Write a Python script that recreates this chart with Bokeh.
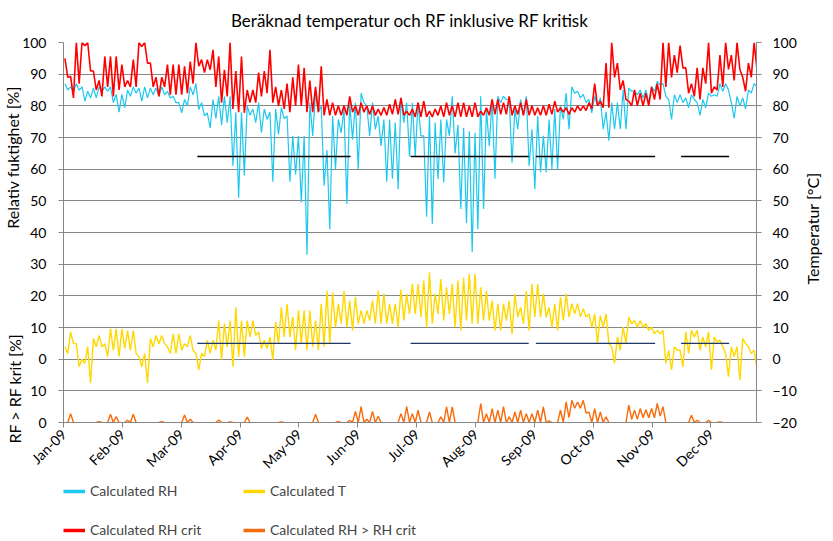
import math
from bokeh.plotting import figure
from bokeh.layouts import column
from bokeh.models import (Range1d, LinearAxis, FixedTicker, Label, Legend, LegendItem)
from bokeh.embed import file_html
from bokeh.resources import INLINE

# ---------------- data ----------------
BUCKET_DAYS = 3  # each entry = high / low of the hourly series over 3 days

month_labels = ["Jan-09", "Feb-09", "Mar-09", "Apr-09", "May-09", "Jun-09",
                "Jul-09", "Aug-09", "Sep-09", "Oct-09", "Nov-09", "Dec-09"]
month_tick_days = [0, 31, 62, 93, 124, 155, 186, 217, 248, 279, 310, 341]

rh_hi = [87, 86, 87, 86, 84.6, 85.6, 86, 86, 86, 83.6,
         83.6, 85, 86, 85.6, 86, 85.6, 85.6, 86, 84.6, 83,
         81, 82, 86, 87, 81, 77.8, 82, 83, 83, 83,
         78, 78, 80, 79, 81, 79, 78, 79, 79.4, 76.8,
         70.5, 70.5, 70.5, 81, 84, 80, 66, 76.8, 75.7, 79,
         81, 81, 84, 80, 81, 76.8, 75.7, 75.7, 74.7, 82.5,
         81, 81, 81, 70.5, 76.8, 74.7, 75.7, 75.7, 83, 74,
         73, 72, 71.5, 83, 79, 82, 83, 83, 82, 79,
         82, 83, 72.6, 76.8, 70.5, 75.7, 79, 80, 84, 86,
         84.6, 83.6, 82, 83, 82.5, 78, 81, 81, 85, 85.6,
         84.6, 85, 85, 86, 87.7, 87, 82, 83.5, 83.5, 82.5,
         83.5, 81, 82, 84, 83.5, 87, 87, 81, 83, 82.5,
         85, 87]
rh_lo = [85, 84.5, 85, 81.5, 82.5, 82.5, 84.6, 84.6, 81, 78,
         79.4, 83, 84, 81.5, 82.5, 83.5, 83, 83.5, 82.5, 81,
         77.8, 80, 83.5, 78.8, 76.8, 73, 76, 74, 74.7, 61,
         51, 58, 77, 74.7, 71.5, 75.7, 56, 71, 76, 56,
         58.3, 49.5, 33, 70.5, 78, 54.8, 41, 60, 71.5, 49,
         69.4, 60, 81, 70.5, 72.6, 67.3, 56, 57, 53.7, 74.7,
         64, 64, 70.5, 45, 42.7, 56.8, 55.8, 70.5, 65, 47.4,
         43, 33.8, 41, 47.4, 67.3, 57, 81, 82, 62, 72.6,
         77, 61, 53.7, 59, 59, 60, 60, 75.7, 72.6, 84,
         82.5, 81, 77.8, 80, 72.6, 69, 72.6, 72.6, 72.6, 84.6,
         83.5, 82.5, 81, 84.6, 86.7, 83, 75.7, 81, 81, 79.4,
         82, 77, 79.4, 83, 83, 84.6, 85, 76, 80, 79,
         84, 86]

rhcrit_hi = [95, 89.3, 100, 100, 100, 91, 88, 95.6, 95.6, 95.6,
             93, 88, 94.6, 100, 100, 93.5, 89, 89, 93, 93,
             93, 92.5, 94, 100, 94.6, 94.6, 97.7, 95.6, 91.4, 100,
             91, 95.6, 85, 85, 90.5, 91, 97.7, 86, 85, 87,
             89, 93, 92, 88, 86, 92.5, 82, 81, 80, 80,
             83, 80, 81, 80, 80, 79, 79.5, 80.5, 82, 82.5,
             78.3, 79, 81, 81.5, 78.3, 79, 80, 81, 80, 81,
             81, 80, 81, 78.3, 79.4, 82, 82, 81, 83, 80,
             81, 82, 80, 79.4, 80, 80.5, 81.5, 79.4, 79.4, 79.4,
             80, 80, 81, 87, 81.5, 93.5, 100, 93.5, 88, 81.5,
             85, 84, 84, 86, 87, 100, 100, 96, 99, 92,
             87, 92, 92, 100, 86, 96, 100, 96, 100, 89,
             93.5, 100]
rhcrit_lo = [89, 82.5, 87, 99, 91, 85, 83, 86, 83, 85,
             86, 86, 86, 98.7, 93.5, 86, 83, 86, 83.5, 83.5,
             83.5, 84, 87, 92.5, 90.5, 91.4, 86, 81, 83, 79,
             78, 77.8, 81, 81, 83, 84, 81, 80, 79, 78,
             80, 80, 78, 78, 78, 77, 77, 77, 77, 77,
             78, 77, 78, 77.3, 77, 77, 77, 77.3, 77.3, 77,
             77, 76.5, 76.5, 76.5, 76.5, 77, 76.5, 77, 76.5, 76.5,
             76.5, 76.5, 76.5, 77, 77, 77.3, 77.3, 77.3, 77, 77.3,
             77, 77, 77, 77, 77, 77.3, 78, 78, 77.3, 78,
             78.5, 78.5, 79, 80, 79.4, 79.4, 89, 85, 82, 80,
             80, 80, 80, 82, 82, 86, 89, 90.5, 92, 84,
             83, 82, 87, 84, 85, 86, 91.5, 88, 91.5, 84.6,
             89, 91.5]

t_hi = [3.9, 8.6, 4.9, 0, 3.9, 6.5, 7.5, 4.9, 9.6, 9.6,
        9.6, 9, 9, 0.8, 1.8, 6.5, 7.5, 7.5, 3.9, 8,
        8, 4.9, 7.5, 1.8, 1.8, 6, 6, 12.2, 11.2, 12.2,
        16.4, 12.2, 12.2, 12.2, 8.6, 6, 7, 11.7, 16.4, 17.5,
        13.3, 15.4, 15.4, 15.4, 12.2, 17.5, 21.6, 21, 17.5, 21.6,
        18.5, 19.6, 15.4, 15.4, 18.5, 21.6, 20.6, 17.5, 17.5, 22,
        20.6, 23.7, 23.7, 24.8, 27.4, 20.6, 25.3, 22.7, 23.7, 24.8,
        25.8, 26.9, 26.9, 22.7, 21.6, 18.5, 17.5, 17.5, 18.5, 20.6,
        16.4, 21.6, 23.7, 23.7, 20.6, 16.4, 17.5, 19.6, 20.6, 17.5,
        17.5, 15.9, 14.3, 14.3, 13.8, 14.3, 3.9, 7, 10.1, 13.3,
        12.2, 12.2, 11.2, 10.1, 9.1, 9.1, 2.8, 3.9, 2.8, 8.6,
        9.1, 9.1, 7, 8.6, 7, 6, 1.8, 3.9, 3.9, 6.5,
        3.9, 2.8]
t_lo = [1.8, 4.9, -2.4, -1.3, -7.6, 3.9, 3.9, 0.8, 2.8, 0.8,
        3.4, 2.8, 1.8, -2.4, -7.6, 3.9, 4.9, 4.9, 1.8, 1.8,
        2.8, 3.9, 2.8, -3.4, 0.8, 1.8, 2.8, -0.2, 3.9, -2.4,
        0.8, 0.8, 7, 7.5, 3.4, 3.4, -0.2, 4.9, 7, 7,
        2.8, 4.9, 2.8, 3.9, 2.8, 3.9, 4.9, 10.1, 11.2, 10.1,
        9.1, 11.2, 11.2, 12.2, 11.2, 11.2, 11.2, 11.2, 10.1, 12.2,
        14.3, 14.3, 13.3, 10.1, 11.2, 14.3, 12.2, 14.3, 10.1, 9.1,
        12.2, 11.2, 11.2, 12.2, 12.2, 9.1, 9.1, 12.2, 8, 13.3,
        11.2, 9.1, 13.3, 13.3, 13.3, 10.1, 9.1, 12.2, 13.3, 14.3,
        13.3, 13.3, 10.1, 4.9, 10.1, 4.9, -1.3, 2.8, 4.9, 11.2,
        10.1, 10.1, 9.1, 8, 8, -1.3, -3.4, 2.8, -2.4, 1.8,
        7, 2.8, 3.9, -3.4, 5.4, 3.9, -5.5, 0.8, -6.6, 4.9,
        1.8, -2.9]

over_hi = [0, 2.8, 0, 0, 0, 0, 0.3, 0, 2.6, 1.9,
           0, 0.7, 2.6, 0, 0, 0, 0, 0.3, 0, 0,
           0, 2.4, 1, 0, 0, 0, 0, 0.8, 0, 0.2,
           0, 0, 1.7, 0, 0, 0, 0, 0, 0.2, 0,
           0, 0, 0, 0, 2.6, 0, 0, 0, 0.3, 0,
           0.7, 3.5, 5, 1, 3.5, 2, 0, 0, 0, 2.8,
           5, 2.8, 3.9, 0, 3.3, 0, 1.8, 4.9, 4.9, 0,
           0, 0, 0, 6, 2.8, 4.4, 3.9, 5, 1.8, 3.3,
           3.9, 2.8, 2.8, 3.9, 4.9, 0.5, 0, 3.9, 6.5, 7,
           6.5, 7, 3.3, 4.4, 3.3, 1.8, 0, 0, 0, 5.5,
           3.9, 4.4, 4, 4.4, 6, 5, 0, 0, 0, 0,
           2.3, 0.7, 0, 0.7, 0, 0.2, 0, 0, 0, 0,
           0, 0]
over_lo = [0] * 88 + [1.5, 4.5, 4.5, 3, 0, 0, 0, 0, 0, 0, 0,
                      1, 1, 1.5, 1.5, 1.5, 2, 0] + [0] * 16

# periods marked with bars (start / end day) and their levels
period_start = [70.5, 182.8, 248.8, 325.3]
period_end = [151.2, 245.0, 311.6, 350.6]
rh_level = 64
t_level = 5

series_names = ["Calculated RH", "Calculated RH crit", "Calculated T",
                "Calculated RH > RH crit"]


def zigzag(hi, lo, gap_zero=False):
    xs, ys = [], []
    for i, (h, l) in enumerate(zip(hi, lo)):
        xs += [BUCKET_DAYS * i + 0.75, BUCKET_DAYS * i + 2.25]
        ys += [h, l]
    if gap_zero:  # leave the baseline empty where nothing exceeds
        out = list(ys)
        for k in range(len(ys)):
            prev_zero = k == 0 or ys[k - 1] == 0
            next_zero = k == len(ys) - 1 or ys[k + 1] == 0
            if ys[k] == 0 and prev_zero and next_zero:
                out[k] = float("nan")
        ys = out
    return xs, ys


FONT = "Lato"
GRID = "#868686"
C_RH = "#1DC8EE"
C_CRIT = "#FF0000"
C_T = "#FFD800"
C_OVER = "#F86A0A"
colors = [C_RH, C_CRIT, C_T, C_OVER]

p = figure(width=833, height=482, frame_width=693, frame_height=380,
           output_backend="svg", toolbar_location=None,
           x_range=Range1d(0, 365), y_range=Range1d(-20, 100),
           min_border_left=62, min_border_right=70, min_border_top=42,
           min_border_bottom=60)
p.extra_y_ranges = {"diff": Range1d(0, 120)}
p.outline_line_color = None
p.background_fill_color = "white"

p.title.text = "Beräknad temperatur och RF inklusive RF kritisk"
p.title.align = "center"
p.title.vertical_align = "top"
p.title.text_font = FONT
p.title.text_font_size = "17px"
p.title.text_font_style = "normal"
p.title.text_color = "#000000"
p.title.standoff = 19

# grid
yt = FixedTicker(ticks=list(range(-20, 101, 10)))
p.ygrid.ticker = yt
p.ygrid.grid_line_color = GRID
p.ygrid.grid_line_width = 1
p.xgrid.visible = False

# series
xs, ys = zigzag(rh_hi, rh_lo)
p.line(xs, ys, line_color=C_RH, line_width=1.2)
xs, ys = zigzag(rhcrit_hi, rhcrit_lo)
p.line(xs, ys, line_color=C_CRIT, line_width=1.6)
xs, ys = zigzag(t_hi, t_lo)
p.line(xs, ys, line_color=C_T, line_width=1.4)
xs, ys = zigzag(over_hi, over_lo, gap_zero=True)
p.line(xs, ys, line_color=C_OVER, line_width=1.4, y_range_name="diff")

p.segment(x0=period_start, y0=[rh_level] * len(period_start),
          x1=period_end, y1=[rh_level] * len(period_start),
          line_color="#000000", line_width=1.3)
p.segment(x0=period_start, y0=[t_level] * len(period_start),
          x1=period_end, y1=[t_level] * len(period_start),
          line_color="#1F3864", line_width=1.3)

# axes
xa = p.xaxis[0]
xa.ticker = FixedTicker(ticks=month_tick_days)
xa.major_label_overrides = {d: lab for d, lab in zip(month_tick_days, month_labels)}
xa.major_label_orientation = math.pi / 4
xa.minor_tick_line_color = None
xa.axis_line_color = GRID
xa.major_tick_line_color = GRID
xa.major_tick_in = 0
xa.major_tick_out = 5
xa.major_label_text_font = FONT
xa.major_label_text_font_size = "14px"
xa.major_label_text_color = "#000000"
xa.major_label_standoff = 4

ya = p.yaxis[0]
ya.ticker = yt
ya.major_label_overrides = {-20: "0", -10: "10"}

ra = LinearAxis(ticker=yt)
p.add_layout(ra, "right")
for ax in (ya, ra):
    ax.minor_tick_line_color = None
    ax.axis_line_color = GRID
    ax.major_tick_line_color = GRID
    ax.major_tick_in = 0
    ax.major_tick_out = 5
    ax.major_label_text_font = FONT
    ax.major_label_text_font_size = "14px"
    ax.major_label_text_color = "#000000"
ya.major_label_standoff = 12
ra.major_label_standoff = 11

# axis titles, placed in the side panels (x relative to the panel slot)
for txt, side, xx, yy in [("Relativ fuktighet [%]", "left", 12, 265),
                          ("Temperatur [°C]", "right", 13, 194),
                          ("RF > RF krit [%]", "right", -804, 34)]:
    p.add_layout(Label(x=xx, y=yy, x_units="screen", y_units="screen", text=txt,
                       angle=math.pi / 2, text_align="center", text_baseline="middle",
                       text_font=FONT, text_font_size="16px", text_color="#000000"), side)

# legend strip below the chart
lf = figure(width=833, height=55, output_backend="svg", toolbar_location=None,
            x_range=Range1d(0, 1), y_range=Range1d(0, 1),
            x_axis_location=None, y_axis_location=None,
            min_border_left=38, min_border_right=0, min_border_top=0, min_border_bottom=0)
lf.outline_line_color = None
lf.xgrid.visible = False
lf.ygrid.visible = False
nan = float("nan")
items = []
for name, col in zip(series_names, colors):
    r = lf.line([nan], [nan], line_color=col, line_width=3.5)
    items.append(LegendItem(label=name, renderers=[r]))
legend = Legend(items=items, location="top_left", ncols=2, orientation="vertical",
                label_text_font=FONT, label_text_font_size="14px",
                label_height=16, label_width=131, glyph_width=22, glyph_height=16,
                label_standoff=5, spacing=22, padding=0, margin=0,
                border_line_color=None, background_fill_alpha=0)
lf.add_layout(legend, "center")

open("out.html", "w").write(file_html(column(p, lf, spacing=0), INLINE))
